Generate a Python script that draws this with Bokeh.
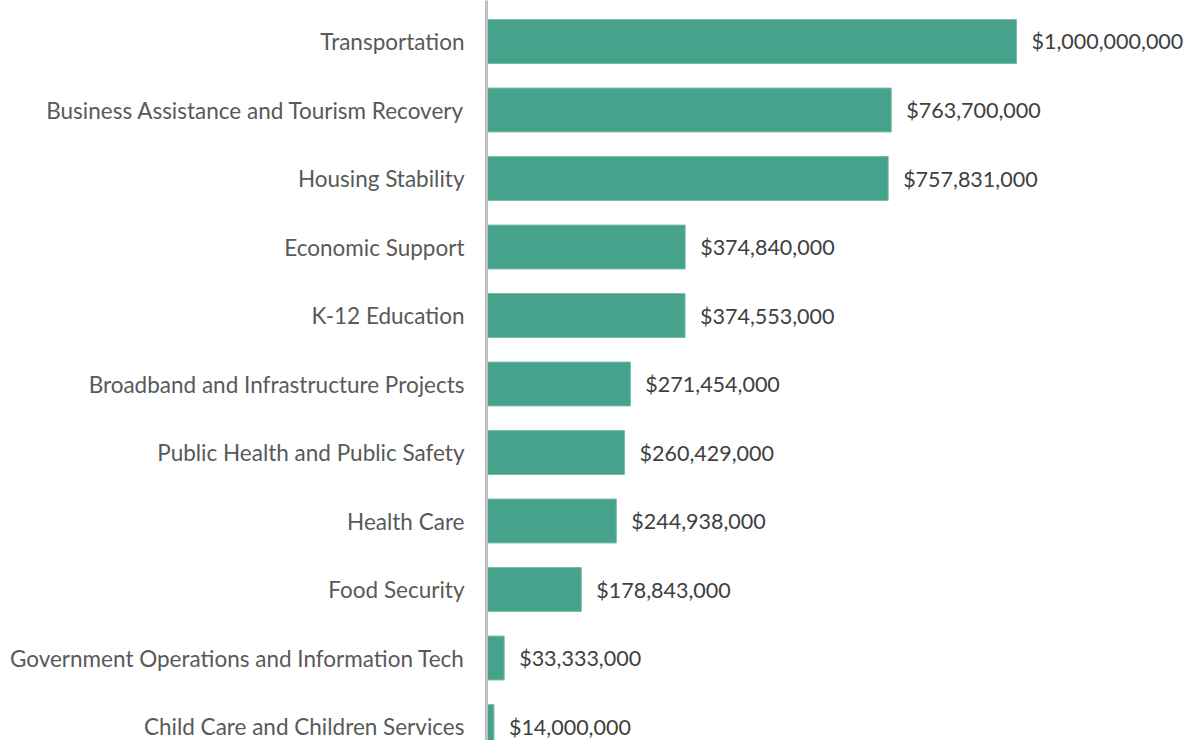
from bokeh.plotting import figure
from bokeh.models import Range1d, FixedTicker, ColumnDataSource
from bokeh.embed import file_html
from bokeh.resources import INLINE
from bokeh.core.properties import value

categories = [
    "Transportation",
    "Business Assistance and Tourism Recovery",
    "Housing Stability",
    "Economic Support",
    "K-12 Education",
    "Broadband and Infrastructure Projects",
    "Public Health and Public Safety",
    "Health Care",
    "Food Security",
    "Government Operations and Information Tech",
    "Child Care and Children Services",
]
amounts = [1000000000, 763700000, 757831000, 374840000, 374553000,
           271454000, 260429000, 244938000, 178843000, 33333000, 14000000]

positions = list(range(len(categories)))
labels = ["${:,}".format(a) for a in amounts]

src = ColumnDataSource(dict(y=positions, amt=amounts, lab=labels))

p = figure(width=1185, height=740, output_backend="svg", toolbar_location=None,
           x_range=Range1d(0, 1.3189e9), y_range=Range1d(10.204, -0.5985),
           min_border_left=486, min_border_right=0, min_border_top=0, min_border_bottom=0)
p.frame_width = 699
p.frame_height = 740

p.hbar(y="y", left=0, right="amt", height=0.64, source=src,
       fill_color="#46a28a", line_color="#74bca7", line_width=1)
p.text(x="amt", y="y", text="lab", source=src, x_offset=15,
       text_baseline="middle", text_align="left",
       text_font=value("Lato"), text_font_size="21.5px", text_color="#404040")

p.xaxis.visible = False
p.xgrid.visible = False
p.ygrid.visible = False
p.outline_line_color = None

ya = p.yaxis[0]
ya.ticker = FixedTicker(ticks=positions)
ya.major_label_overrides = {i: c for i, c in zip(positions, categories)}
ya.major_tick_line_color = None
ya.minor_tick_line_color = None
ya.axis_line_color = "#bfbfbf"
ya.axis_line_width = 3
ya.major_label_standoff = 16
ya.major_label_text_font = "Lato"
ya.major_label_text_font_size = "22.5px"
ya.major_label_text_color = "#595959"

open("out.html", "w").write(file_html(p, INLINE))
